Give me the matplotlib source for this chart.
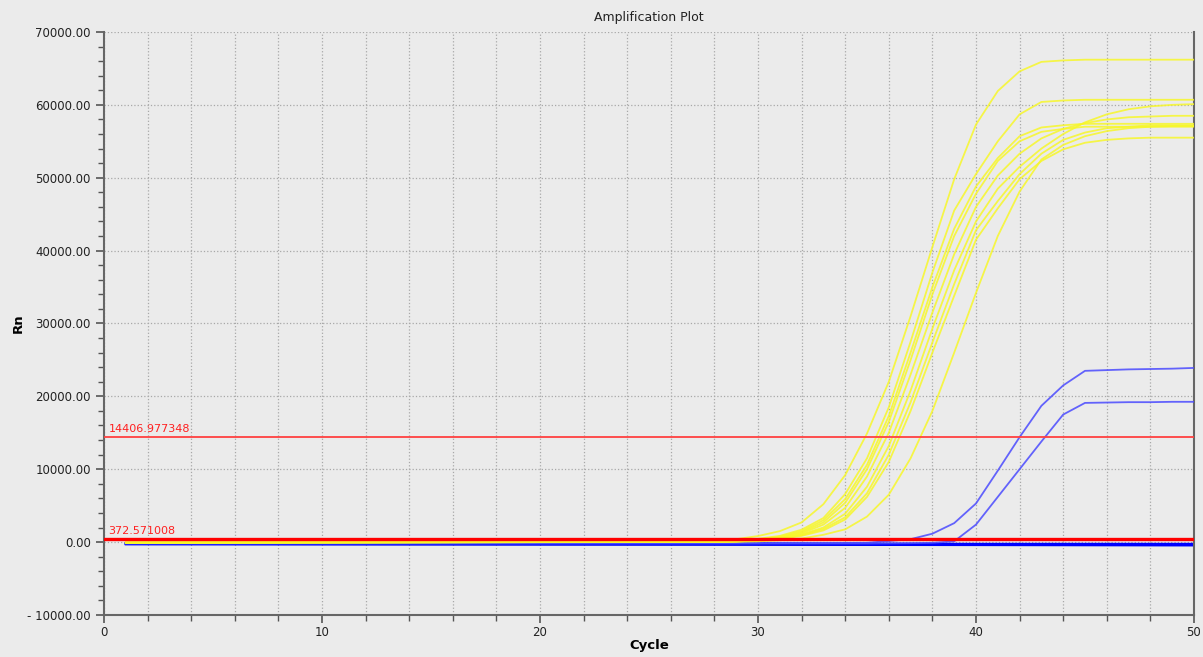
"""Amplification plot (Rn vs cycle) with threshold lines."""
import matplotlib.pyplot as plt
from matplotlib.ticker import MultipleLocator, FuncFormatter

# cycle 1 is the flat baseline start, readings then run cycle 28..50
CYCLES = [1] + list(range(28, 51))

YELLOW_CURVES = [
    [-80, 150, 400, 830, 1500, 2700, 5200, 9200, 14900, 22000, 31000, 40500,
     49800, 57300, 61900, 64600, 65900, 66100, 66200, 66200, 66200, 66200,
     66200, 66200],
    [-80, 80, 200, 450, 850, 1700, 3300, 6600, 11500, 18500, 27500, 37000,
     45500, 50500, 55000, 58700, 60400, 60600, 60700, 60700, 60700, 60700,
     60700, 60700],
    [-80, 60, 160, 380, 750, 1500, 3000, 5900, 10600, 17300, 26000, 35000,
     43000, 48800, 52700, 55700, 56900, 57200, 57400, 57400, 57400, 57400,
     57400, 57400],
    [-80, 50, 140, 340, 680, 1350, 2700, 5400, 10000, 16500, 25000, 34000,
     42000, 47800, 52300, 55000, 56300, 56700, 57000, 57000, 57000, 57000,
     57000, 57000],
    [-80, 40, 120, 300, 600, 1200, 2400, 4700, 9000, 15000, 23000, 31500,
     39500, 46000, 50300, 53300, 55400, 56700, 57500, 58000, 58300, 58400,
     58500, 58500],
    [-80, 30, 100, 260, 520, 1050, 2000, 3900, 7600, 13200, 20800, 29300,
     37300, 44000, 48500, 51500, 54000, 56000, 57600, 58700, 59400, 59800,
     60000, 60100],
    [-80, 30, 90, 230, 470, 950, 1800, 3400, 6700, 12000, 19200, 27400,
     35400, 42800, 46800, 50500, 53300, 55200, 56200, 56800, 57000, 57200,
     57200, 57200],
    [-80, 25, 80, 200, 420, 850, 1600, 3100, 6200, 11000, 18000, 26000,
     33800, 41500, 45800, 49800, 52300, 53900, 54800, 55200, 55400, 55500,
     55500, 55500],
    [-80, 10, 40, 100, 250, 500, 1000, 1750, 3500, 6500, 11500, 18000,
     26000, 34200, 42000, 48100, 52500, 54500, 55700, 56400, 56800, 57000,
     57100, 57100],
]

BLUE_CURVES = [
    [-150, -150, -150, -150, -150, -150, -140, -120, -100, 150, 400, 1150,
     2600, 5300, 9800, 14400, 18700, 21500, 23500, 23600, 23700, 23750,
     23800, 23900],
    [-200, -200, -200, -200, -200, -200, -200, -200, -200, -180, -150, -100,
     100, 2400, 6200, 10000, 13800, 17500, 19100, 19150, 19200, 19200,
     19250, 19250],
]

FLAT_CYCLES = [1, 28, 40, 50]
FLAT_BLUE = [
    [-150, -200, -250, -250],
    [-250, -300, -350, -350],
    [-300, -350, -400, -450],
    [-200, -250, -300, -300],
]

THRESHOLDS = [14406.977348, 372.571008]
THRESHOLD_LABELS = ["14406.977348", "372.571008"]

BG = "#ebebeb"


def _fmt_y(v, _pos):
    return "{:.2f}".format(v).replace("-", "- ")


def _main() -> None:
    fig = plt.figure(figsize=(12.03, 6.57), dpi=100, facecolor=BG)
    ax = fig.add_axes([0.0865, 0.064, 0.906, 0.8873], facecolor=BG)

    for vals in FLAT_BLUE:
        ax.plot(FLAT_CYCLES, vals, color="#0000ff", lw=1.6, zorder=2)
    for vals in BLUE_CURVES:
        ax.plot(CYCLES, vals, color="#4a4aff", lw=1.3, alpha=0.85, zorder=3)
    for vals in YELLOW_CURVES:
        ax.plot(CYCLES, vals, color="#f7f72a", lw=1.3, alpha=0.85, zorder=4)

    ax.axhline(THRESHOLDS[0], color="#ff4040", lw=1.3, zorder=5)
    ax.axhline(THRESHOLDS[1], color="#ff0000", lw=2.4, zorder=5)
    for thr, label in zip(THRESHOLDS, THRESHOLD_LABELS):
        ax.text(0.2, thr + 450, label, color="#ff2020", fontsize=8,
                ha="left", va="bottom", zorder=6)

    ax.set_xlim(0, 50)
    ax.set_ylim(-10000, 70000)
    ax.xaxis.set_major_locator(MultipleLocator(10))
    ax.xaxis.set_minor_locator(MultipleLocator(2))
    ax.yaxis.set_major_locator(MultipleLocator(10000))
    ax.yaxis.set_minor_locator(MultipleLocator(2000))
    ax.yaxis.set_major_formatter(FuncFormatter(_fmt_y))

    ax.grid(True, which="minor", axis="x", color="#a8a8a8", ls=":", lw=0.9)
    ax.grid(True, which="major", axis="x", color="#a8a8a8", ls=":", lw=0.9)
    ax.grid(True, which="major", axis="y", color="#a8a8a8", ls=":", lw=0.9)
    ax.set_axisbelow(True)

    ax.tick_params(which="major", length=6, width=1.2, color="#555555",
                   labelsize=8.5, labelcolor="#222222")
    ax.tick_params(which="minor", length=4, width=1.0, color="#555555")
    ax.tick_params(axis="x", pad=2)

    for side in ("left", "bottom", "right"):
        ax.spines[side].set_color("#666666")
        ax.spines[side].set_linewidth(1.5)
    ax.spines["top"].set_visible(False)

    ax.set_title("Amplification Plot", fontsize=9, pad=8, color="#222222")
    ax.set_xlabel("Cycle", fontsize=9.5, fontweight="bold", labelpad=0)
    ax.set_ylabel("Rn", fontsize=9.5, fontweight="bold", labelpad=2)

    fig.savefig("out.png", dpi=100, facecolor=BG)


if __name__ == "__main__":
    _main()
